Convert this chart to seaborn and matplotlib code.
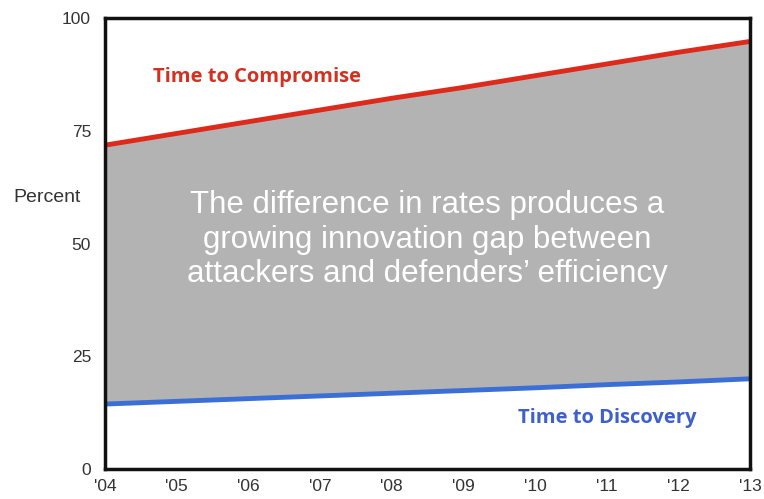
import matplotlib
matplotlib.use("Agg")
import matplotlib.pyplot as plt
import seaborn as sns
import pandas as pd

years = ["'04", "'05", "'06", "'07", "'08", "'09", "'10", "'11", "'12", "'13"]
compromise = [71.8, 74.4, 77.0, 79.6, 82.2, 84.6, 87.2, 89.8, 92.4, 94.8]
discovery = [14.4, 15.0, 15.6, 16.2, 16.8, 17.4, 18.0, 18.7, 19.3, 20.0]
yticks = [0, 25, 50, 75, 100]

sns.set_theme(style="white")
plt.rcParams['font.family'] = ['Liberation Sans', 'DejaVu Sans']

df = pd.DataFrame({"x": range(len(years)), "compromise": compromise, "discovery": discovery})

fig = plt.figure(figsize=(7.64, 4.99), dpi=100)
ax = fig.add_axes([105/764, 30/499, 645/764, 451/499])

ax.fill_between(df["x"], df["discovery"], df["compromise"], color="#b3b3b3", lw=0, zorder=1)
sns.lineplot(data=df, x="x", y="compromise", ax=ax, color="#dd2a1b", lw=3.5, zorder=3)
sns.lineplot(data=df, x="x", y="discovery", ax=ax, color="#3b6fd6", lw=3.5, zorder=3)

ax.set_xlim(0, len(years) - 1)
ax.set_ylim(0, 100)
ax.set_xticks(range(len(years)))
ax.set_xticklabels(years)
ax.set_yticks(yticks)
ax.set_yticklabels([str(v) for v in yticks])
ax.tick_params(axis="both", length=0, labelsize=12.5, labelcolor="#333333")
ax.tick_params(axis="y", pad=10)
ax.tick_params(axis="x", pad=7)
ax.set_xlabel("")
ax.set_ylabel("")
for s in ax.spines.values():
    s.set_color("#111111")
    s.set_linewidth(2.5)
    s.set_zorder(5)

fig.text(47/764, 1 - 198/499, "Percent", ha="center", va="center", fontsize=14, color="#333333")

ax.text(0.5, 0.508, "The difference in rates produces a\ngrowing innovation gap between\nattackers and defenders\u2019 efficiency",
        transform=ax.transAxes, ha="center", va="center", color="white", fontsize=22.5, linespacing=1.2, zorder=4)
ax.text(0.075, 0.87, "Time to Compromise", transform=ax.transAxes, ha="left", va="center",
        color="#d4301f", fontsize=14.5, fontweight="bold", family=["Open Sans", "DejaVu Sans"], zorder=4)
ax.text(0.640, 0.113, "Time to Discovery", transform=ax.transAxes, ha="left", va="center",
        color="#3f5fcc", fontsize=14.5, fontweight="bold", family=["Open Sans", "DejaVu Sans"], zorder=4)

fig.savefig("out.png", dpi=100)
